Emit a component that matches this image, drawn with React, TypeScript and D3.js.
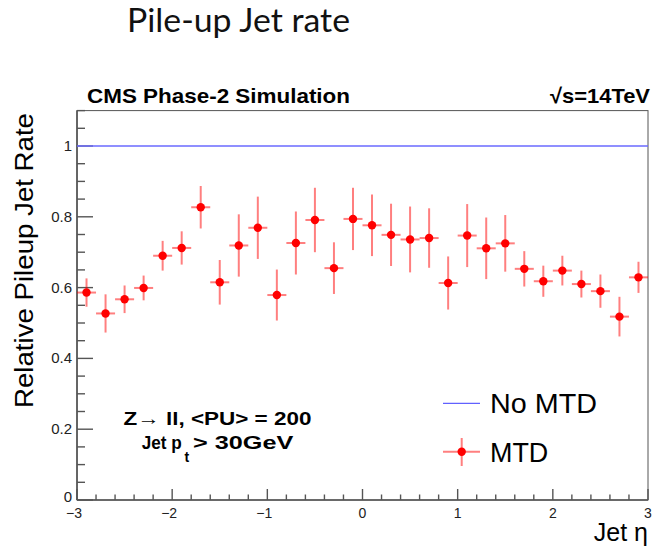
import React from "react";
import * as d3 from "d3";

const etaCenters = [-2.9, -2.7, -2.5, -2.3, -2.1, -1.9, -1.7, -1.5, -1.3, -1.1, -0.9, -0.7, -0.5, -0.3, -0.1, 0.1, 0.3, 0.5, 0.7, 0.9, 1.1, 1.3, 1.5, 1.7, 1.9, 2.1, 2.3, 2.5, 2.7, 2.9];
const mtdRate = [0.586, 0.527, 0.567, 0.599, 0.690, 0.712, 0.827, 0.615, 0.719, 0.769, 0.579, 0.726, 0.791, 0.655, 0.794, 0.776, 0.749, 0.736, 0.740, 0.613, 0.747, 0.711, 0.725, 0.653, 0.618, 0.648, 0.610, 0.590, 0.518, 0.629];
const mtdErr = [0.040, 0.054, 0.039, 0.035, 0.042, 0.047, 0.060, 0.063, 0.088, 0.088, 0.072, 0.089, 0.091, 0.073, 0.088, 0.087, 0.088, 0.093, 0.084, 0.075, 0.089, 0.087, 0.080, 0.050, 0.044, 0.042, 0.038, 0.047, 0.056, 0.044];
const binHalfWidth = 0.1;
const noMtdRate = 1;
const xTicks = [-3, -2, -1, 0, 1, 2, 3];
const xTickLabels = ["\u22123", "\u22122", "\u22121", "0", "1", "2", "3"];
const yTicks = [0, 0.2, 0.4, 0.6, 0.8, 1];
const yTickLabels = ["0", "0.2", "0.4", "0.6", "0.8", "1"];
const legendLabels = ["No MTD", "MTD"];

const FONT = "'Liberation Sans', Arial, Helvetica, sans-serif";
const AXIS = "#555";
const RED = "#ff0000";
const RED_ERR = "rgba(255,0,0,0.5)";
const BLUE = "#6a6aff";

export default function App() {
  const x = d3.scaleLinear().domain([-3, 3]).range([77, 648]);
  const y = d3.scaleLinear().domain([0, 1.1]).range([500, 110.6]);
  const [x0, x1] = x.range();
  const y0 = 500;
  const yTop = y(1.1);

  const yMinor = d3.range(0, 1.1001, 0.05).filter((v) => !yTicks.some((t) => Math.abs(t - v) < 1e-6));
  const xMinor = d3.range(-3, 3.0001, 0.2).filter((v) => !xTicks.some((t) => Math.abs(t - v) < 1e-6));

  return (
    <svg width={654} height={547} style={{ position: "absolute", left: 0, top: 0, background: "#fff" }}>
      <rect x={0} y={0} width={654} height={547} fill="#fff" />
      {/* Slide title */}
      <text x={127} y={32} fontFamily="Lato, 'Open Sans', sans-serif" fontSize={32} fill="#111" textLength={223} lengthAdjust="spacingAndGlyphs">
        Pile-up Jet rate
      </text>

      {/* header texts */}
      <text x={87} y={103} fontFamily={FONT} fontWeight="bold" fontSize={21} fill="#000" textLength={263} lengthAdjust="spacingAndGlyphs">
        CMS Phase-2 Simulation
      </text>
      <text x={650} y={103} textAnchor="end" fontFamily={FONT} fontWeight="bold" fontSize={21} fill="#000" textLength={100} lengthAdjust="spacingAndGlyphs">
        {"\u221As=14TeV"}
      </text>

      {/* frame */}
      <rect x={x0} y={yTop} width={x1 - x0} height={y0 - yTop} fill="none" stroke={AXIS} strokeWidth={1} />
      <line x1={x0} x2={x0} y1={yTop} y2={y0} stroke={AXIS} strokeWidth={1.6} />
      <line x1={x0} x2={x1} y1={y0} y2={y0} stroke={AXIS} strokeWidth={1.6} />

      {/* y ticks */}
      {yTicks.map((t, i) => (
        <g key={"yt" + i}>
          <line x1={x0} x2={x0 + 16} y1={y(t)} y2={y(t)} stroke={AXIS} strokeWidth={1.4} />
          <text x={72} y={y(t) + (t === 0 ? 2 : 5)} textAnchor="end" fontFamily={FONT} fontSize={15} fill="#222">
            {yTickLabels[i]}
          </text>
        </g>
      ))}
      {yMinor.map((t, i) => (
        <line key={"ym" + i} x1={x0} x2={x0 + 8} y1={y(t)} y2={y(t)} stroke={AXIS} strokeWidth={1.4} />
      ))}

      {/* x ticks */}
      {xTicks.map((t, i) => (
        <g key={"xt" + i}>
          <line x1={x(t)} x2={x(t)} y1={y0} y2={y0 - 11} stroke={AXIS} strokeWidth={1.4} />
          <text x={x(t) - (t < 0 ? 3 : 0)} y={518} textAnchor="middle" fontFamily={FONT} fontSize={14} fill="#222">
            {xTickLabels[i]}
          </text>
        </g>
      ))}
      {xMinor.map((t, i) => (
        <line key={"xm" + i} x1={x(t)} x2={x(t)} y1={y0} y2={y0 - 5.5} stroke={AXIS} strokeWidth={1.4} />
      ))}

      {/* axis titles */}
      <text x={648} y={541} textAnchor="end" fontFamily={FONT} fontSize={25} fill="#000">
        Jet {"\u03B7"}
      </text>
      <text transform="translate(33,113) rotate(-90)" textAnchor="end" fontFamily={FONT} fontSize={25} fill="#000" textLength={295} lengthAdjust="spacingAndGlyphs">
        Relative Pileup Jet Rate
      </text>

      {/* No MTD line */}
      <line x1={x0} x2={x1} y1={y(noMtdRate)} y2={y(noMtdRate)} stroke={BLUE} strokeWidth={1.6} />

      {/* MTD points */}
      {etaCenters.map((e, i) => (
        <g key={"p" + i}>
          <line x1={x(e)} x2={x(e)} y1={y(mtdRate[i] - mtdErr[i])} y2={y(mtdRate[i] + mtdErr[i])} stroke={RED_ERR} strokeWidth={2} />
          <line x1={x(e - binHalfWidth)} x2={x(e + binHalfWidth)} y1={y(mtdRate[i])} y2={y(mtdRate[i])} stroke={RED_ERR} strokeWidth={2} />
          <circle cx={x(e)} cy={y(mtdRate[i])} r={4.2} fill={RED} />
        </g>
      ))}

      {/* annotations */}
      <text x={123.5} y={425} fontFamily={FONT} fontWeight="bold" fontSize={19} fill="#000" textLength={188} lengthAdjust="spacingAndGlyphs">
        {"Z\u2192 ll, <PU> = 200"}
      </text>
      <text x={141.7} y={448.5} fontFamily={FONT} fontWeight="bold" fontSize={19} fill="#000" textLength={40} lengthAdjust="spacingAndGlyphs">
        Jet p
      </text>
      <text x={184.5} y={462} fontFamily={FONT} fontWeight="bold" fontSize={14} fill="#000">
        t
      </text>
      <text x={193} y={448.5} fontFamily={FONT} fontWeight="bold" fontSize={19} fill="#000" textLength={100.3} lengthAdjust="spacingAndGlyphs">
        {"> 30GeV"}
      </text>

      {/* legend */}
      <line x1={443} x2={480} y1={403.3} y2={403.3} stroke="#3a3aff" strokeWidth={1} />
      <text x={490} y={413.3} fontFamily={FONT} fontSize={27} fill="#000" textLength={107} lengthAdjust="spacingAndGlyphs">
        {legendLabels[0]}
      </text>
      <line x1={461.7} x2={461.7} y1={438} y2={466} stroke={RED_ERR} strokeWidth={2} />
      <line x1={443} x2={480} y1={451.7} y2={451.7} stroke={RED_ERR} strokeWidth={2} />
      <circle cx={461.7} cy={451.7} r={4.2} fill={RED} />
      <text x={490} y={461.7} fontFamily={FONT} fontSize={27} fill="#000" textLength={58.3} lengthAdjust="spacingAndGlyphs">
        {legendLabels[1]}
      </text>
    </svg>
  );
}
